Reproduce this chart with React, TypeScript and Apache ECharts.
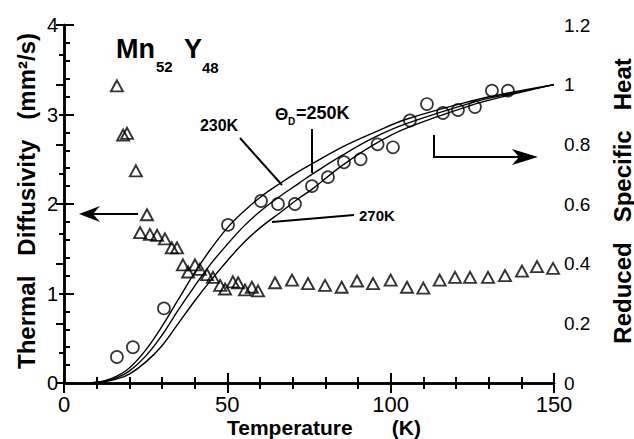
import React, { useEffect, useRef } from "react";
import * as echarts from "echarts";

// Thermal diffusivity (mm^2/s), left axis — triangles
const diffT = [16.2, 18.1, 19.3, 22.0, 25.4, 23.3, 26.3, 28.5, 30.9, 33.0, 34.6, 36.4, 38.0, 40.1, 41.6, 43.8, 45.6, 47.8, 49.3, 51.7, 53.3, 55.4, 57.5, 59.4, 64.6, 69.8, 74.7, 79.9, 85.0, 89.7, 94.6, 100.0, 105.0, 110.0, 115.0, 119.7, 124.3, 129.8, 135.0, 140.2, 144.8, 149.7];
const diffD = [3.32, 2.77, 2.79, 2.37, 1.88, 1.68, 1.66, 1.65, 1.61, 1.51, 1.51, 1.32, 1.24, 1.32, 1.27, 1.21, 1.18, 1.09, 1.05, 1.13, 1.12, 1.04, 1.07, 1.03, 1.12, 1.15, 1.11, 1.09, 1.07, 1.14, 1.11, 1.15, 1.07, 1.06, 1.15, 1.18, 1.18, 1.18, 1.2, 1.25, 1.3, 1.28];

// Reduced specific heat, right axis — circles
const heatT = [16.2, 21.1, 30.6, 50.2, 60.3, 65.5, 70.7, 75.9, 80.8, 85.7, 90.8, 96.0, 100.7, 105.9, 111.1, 116.0, 120.6, 125.8, 131.0, 135.9];
const heatC = [0.087, 0.12, 0.25, 0.53, 0.61, 0.6, 0.6, 0.66, 0.69, 0.74, 0.75, 0.8, 0.79, 0.88, 0.935, 0.905, 0.915, 0.925, 0.98, 0.98];

// Debye curves (T, reduced C)
const curveT = [8, 12, 16, 20, 25, 30, 35, 40, 45, 50, 55, 60, 66, 72, 76, 85, 95, 105, 125, 136, 150];
const curve230 = [0, 0.006, 0.022, 0.05, 0.11, 0.19, 0.28, 0.37, 0.45, 0.52, 0.575, 0.622, 0.668, 0.71, 0.735, 0.79, 0.84, 0.885, 0.946, 0.972, 1.0];
const curve250 = [0, 0.005, 0.017, 0.04, 0.09, 0.16, 0.245, 0.325, 0.40, 0.465, 0.525, 0.575, 0.625, 0.67, 0.70, 0.762, 0.823, 0.87, 0.94, 0.968, 1.0];
const curve270 = [0, 0.004, 0.013, 0.03, 0.07, 0.125, 0.2, 0.275, 0.345, 0.41, 0.47, 0.52, 0.57, 0.62, 0.65, 0.728, 0.80, 0.855, 0.932, 0.964, 1.0];

const xTicks = [0, 50, 100, 150];
const leftTicks = [0, 1, 2, 3, 4];
const rightTicks = [0, 0.2, 0.4, 0.6, 0.8, 1, 1.2];

const FONT = '"Liberation Sans", Arial, Helvetica, sans-serif';

const zip = (a: number[], b: number[]) => a.map((v, i) => [v, b[i]]);

export default function App() {
  const ref = useRef<HTMLDivElement>(null);
  useEffect(() => {
    if (!ref.current) return;
    const chart = echarts.init(ref.current, undefined, { renderer: "svg" });
    const axisLine = { show: true, lineStyle: { color: "#000", width: 2.5 } };
    const curveStyle = { color: "#000", width: 1.4 };
    const curveSeries = (name: string, vals: number[]) => ({
      name,
      type: "line",
      xAxisIndex: 0,
      yAxisIndex: 1,
      data: zip(curveT, vals),
      smooth: 0.4,
      showSymbol: false,
      symbol: "none",
      lineStyle: curveStyle,
      z: 2,
    });
    chart.setOption({
      animation: false,
      backgroundColor: "#fff",
      grid: { left: 64, top: 25, right: 80, bottom: 56, containLabel: false },
      xAxis: [
        {
          type: "value",
          min: 0,
          max: 150,
          interval: 50,
          axisLine,
          axisTick: { inside: true, length: 10, lineStyle: { color: "#000", width: 2 } },
          minorTick: { show: true, splitNumber: 5, length: 6, lineStyle: { color: "#000", width: 2 } },
          splitLine: { show: false },
          axisLabel: {
            margin: 13,
            color: "#000",
            fontFamily: FONT,
            fontSize: 22,
            lineHeight: 16,
            formatter: (v: number) => (xTicks.includes(v) ? String(v) : ""),
          },
        },
        {
          type: "value",
          position: "top",
          min: 0,
          max: 150,
          interval: 50,
          axisLine,
          axisTick: { inside: true, length: 10, lineStyle: { color: "#000", width: 2 } },
          minorTick: { show: true, splitNumber: 5, length: 6, lineStyle: { color: "#000", width: 2 } },
          splitLine: { show: false },
          axisLabel: { show: false },
        },
      ],
      yAxis: [
        {
          type: "value",
          position: "left",
          min: 0,
          max: 4,
          interval: 1,
          axisLine,
          axisTick: { inside: true, length: 10, lineStyle: { color: "#000", width: 2 } },
          minorTick: { show: true, splitNumber: 5, length: 6, lineStyle: { color: "#000", width: 2 } },
          splitLine: { show: false },
          axisLabel: {
            margin: 6,
            color: "#000",
            fontFamily: FONT,
            fontSize: 20,
            lineHeight: 16,
            formatter: (v: number) => (leftTicks.includes(v) ? String(v) : ""),
          },
        },
        {
          type: "value",
          position: "right",
          min: 0,
          max: 1.2,
          interval: 0.2,
          axisLine,
          axisTick: { inside: true, length: 8, lineStyle: { color: "#000", width: 2 } },
          minorTick: { show: true, splitNumber: 2, length: 5, lineStyle: { color: "#000", width: 2 } },
          splitLine: { show: false },
          axisLabel: {
            margin: 10,
            color: "#000",
            fontFamily: FONT,
            fontSize: 19,
            lineHeight: 16,
            formatter: (v: number) => {
              const r = Math.round(v * 10) / 10;
              return rightTicks.includes(r) ? String(r) : "";
            },
          },
        },
      ],
      series: [
        curveSeries("230K", curve230),
        curveSeries("250K", curve250),
        curveSeries("270K", curve270),
        {
          name: "Thermal Diffusivity",
          type: "scatter",
          xAxisIndex: 0,
          yAxisIndex: 0,
          data: zip(diffT, diffD),
          symbol: "triangle",
          symbolSize: [12, 11],
          itemStyle: { color: "rgba(255,255,255,0)", borderColor: "#000", borderWidth: 1.9 },
          z: 3,
        },
        {
          name: "Reduced Specific Heat",
          type: "scatter",
          xAxisIndex: 0,
          yAxisIndex: 1,
          data: zip(heatT, heatC),
          symbol: "circle",
          symbolSize: 12,
          itemStyle: { color: "rgba(255,255,255,0)", borderColor: "#000", borderWidth: 1.7 },
          z: 3,
        },
      ],
      graphic: {
        elements: [
          // Title Mn52Y48
          { type: "text", x: 116, y: 49, style: { text: "Mn", font: `bold 27px ${FONT}`, fill: "#000", align: "left", verticalAlign: "middle" } },
          { type: "text", x: 156, y: 66, style: { text: "52", font: `bold 15px ${FONT}`, fill: "#000", align: "left", verticalAlign: "middle" } },
          { type: "text", x: 184, y: 49, style: { text: "Y", font: `bold 27px ${FONT}`, fill: "#000", align: "left", verticalAlign: "middle" } },
          { type: "text", x: 202, y: 67, style: { text: "48", font: `bold 15px ${FONT}`, fill: "#000", align: "left", verticalAlign: "middle" } },
          // Curve labels
          { type: "text", x: 219, y: 125, style: { text: "230K", font: `bold 16px ${FONT}`, fill: "#000", align: "center", verticalAlign: "middle" } },
          { type: "line", shape: { x1: 240, y1: 138, x2: 282, y2: 185 }, style: { stroke: "#000", lineWidth: 2 } },
          { type: "text", x: 275, y: 114, style: { text: "Θ", font: `bold 17px ${FONT}`, fill: "#000", align: "left", verticalAlign: "middle" } },
          { type: "text", x: 288, y: 121, style: { text: "D", font: `bold 10px ${FONT}`, fill: "#000", align: "left", verticalAlign: "middle" } },
          { type: "text", x: 296, y: 113, style: { text: "=250K", font: `bold 18px ${FONT}`, fill: "#000", align: "left", verticalAlign: "middle" } },
          { type: "line", shape: { x1: 312, y1: 129, x2: 312, y2: 173 }, style: { stroke: "#000", lineWidth: 2 } },
          { type: "text", x: 359, y: 215, style: { text: "270K", font: `bold 15px ${FONT}`, fill: "#000", align: "left", verticalAlign: "middle" } },
          { type: "line", shape: { x1: 354, y1: 215, x2: 272, y2: 222 }, style: { stroke: "#000", lineWidth: 2 } },
          // Left arrow
          { type: "line", shape: { x1: 92, y1: 214, x2: 138, y2: 214 }, style: { stroke: "#000", lineWidth: 2 } },
          { type: "polygon", shape: { points: [[79, 214], [100, 206], [93, 214], [100, 222]] }, style: { fill: "#000" } },
          // Right arrow
          { type: "polyline", shape: { points: [[434, 135], [434, 157], [522, 157]] }, style: { stroke: "#000", lineWidth: 2, fill: "none" } },
          { type: "polygon", shape: { points: [[538, 157], [512, 149], [519, 157], [512, 165]] }, style: { fill: "#000" } },
          // Axis titles
          { type: "text", x: 227, y: 427, style: { text: "Temperature", font: `bold 21px ${FONT}`, fill: "#000", align: "left", verticalAlign: "middle" } },
          { type: "text", x: 421, y: 427, style: { text: "(K)", font: `bold 21px ${FONT}`, fill: "#000", align: "right", verticalAlign: "middle" } },
          { type: "text", x: 26, y: 201, rotation: Math.PI / 2, style: { text: "Thermal   Diffusivity   (mm²/s)", font: `bold 24px ${FONT}`, fill: "#000", align: "center", verticalAlign: "middle" } },
          { type: "text", x: 622, y: 201, rotation: Math.PI / 2, style: { text: "Reduced   Specific   Heat", font: `bold 24px ${FONT}`, fill: "#000", align: "center", verticalAlign: "middle" } },
        ],
      },
    });
    return () => chart.dispose();
  }, []);
  return (
    <div
      ref={ref}
      style={{ position: "fixed", left: 0, top: 0, width: 634, height: 439, background: "#fff" }}
    />
  );
}
